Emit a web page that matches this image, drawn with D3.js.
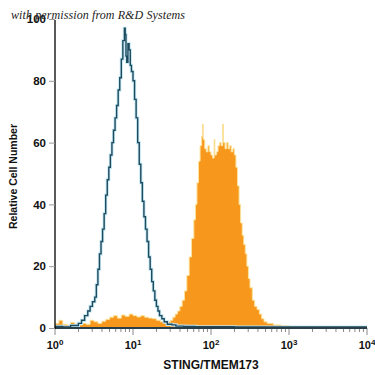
<!DOCTYPE html>
<html>
<head>
<meta charset="utf-8">
<script src="https://cdn.jsdelivr.net/npm/d3@7"></script>
<style>
  body { margin: 0; background: #fff; }
  svg { display: block; }
</style>
</head>
<body>
<div id="chart"></div>
<script>
// histogram outlines: position in log10 units, relative count
var isotypeLog = [0.00, 0.10, 0.20, 0.30, 0.34, 0.38, 0.42, 0.45, 0.48, 0.51, 0.53, 0.55, 0.57, 0.59,
  0.61, 0.63, 0.65, 0.67, 0.69, 0.71, 0.73, 0.75, 0.77, 0.79, 0.81, 0.83, 0.85, 0.87, 0.89, 0.90,
  0.91, 0.92, 0.935, 0.95, 0.965, 0.98, 1.00, 1.02, 1.04, 1.06, 1.08, 1.10, 1.12, 1.14, 1.16, 1.18,
  1.20, 1.22, 1.24, 1.26, 1.28, 1.30, 1.32, 1.34, 1.37, 1.40, 1.44, 1.50, 1.55, 1.65, 1.80, 2.00,
  2.30, 2.60, 2.90, 3.20, 3.50, 3.80, 4.00];
var isotypeCount = [0.5, 0.3, 0.8, 1.5, 2.5, 4, 5.5, 7, 8.5, 10, 14, 19, 24, 28,
  32, 37, 43, 48, 52, 56, 60, 64, 68, 72, 77, 81, 87, 93, 97, 95,
  88, 86, 92, 90, 85, 83, 80, 74, 68, 60, 53, 47, 41, 36, 32, 28,
  23, 19, 15, 12, 9, 7, 5.5, 4, 3, 2, 1.2, 1, 0.6, 0.5, 0.4, 0.4,
  0.3, 0.3, 0.3, 0.3, 0.3, 0.3, 0.3];

var stainedLog = [0.00, 0.05, 0.10, 0.15, 0.20, 0.25, 0.30, 0.35, 0.40, 0.45, 0.50, 0.55, 0.60, 0.65,
  0.70, 0.75, 0.80, 0.85, 0.90, 0.95, 1.00, 1.05, 1.10, 1.15, 1.20, 1.25, 1.30, 1.35, 1.40, 1.45,
  1.48, 1.51, 1.54, 1.57, 1.60, 1.63, 1.66, 1.69, 1.72, 1.75, 1.78, 1.80, 1.82, 1.84, 1.86, 1.88,
  1.89, 1.90, 1.92, 1.94, 1.96, 1.98, 2.00, 2.02, 2.04, 2.05, 2.07, 2.09, 2.11, 2.13, 2.15, 2.16,
  2.18, 2.20, 2.22, 2.24, 2.26, 2.28, 2.30, 2.32, 2.34, 2.36, 2.38, 2.40, 2.42, 2.44, 2.46, 2.48,
  2.50, 2.53, 2.56, 2.59, 2.62, 2.65, 2.68, 2.72, 2.80, 2.90, 3.00, 3.50, 4.00];
var stainedCount = [1.5, 2.5, 1.2, 1, 1.8, 1.3, 1, 1.5, 1.2, 2.5, 2, 1.5, 2.2, 2.8,
  3.5, 4, 3.2, 4.2, 3.8, 4.5, 4, 3.6, 4, 3.5, 3.2, 3, 2.5, 2, 1.5, 2,
  2.5, 3.5, 4.5, 5.5, 7, 9, 12, 17, 23, 29, 35, 40, 47, 54, 59, 62,
  66, 61, 58, 57, 59, 57, 56, 55, 61, 56, 57, 59, 60, 59, 66, 60,
  58, 60, 58, 59, 57, 58, 56, 52, 46, 40, 34, 30, 27, 24, 20, 16,
  13, 9, 7, 6, 4.5, 3, 2, 1.5, 1, 0.8, 0.3, 0.2, 0];

var yTicks = [0, 20, 40, 60, 80, 100];
var xDecades = [0, 1, 2, 3, 4];

var width = 375, height = 375,
    margin = { left: 55, right: 8, top: 19, bottom: 47 };

var svg = d3.select("#chart").append("svg")
  .attr("width", width)
  .attr("height", height);

var x = d3.scaleLog()
  .domain([1, 10000])
  .range([margin.left, width - margin.right]);

var y = d3.scaleLinear()
  .domain([0, 100])
  .range([height - margin.bottom, margin.top]);

function pts(logs, counts) {
  return logs.map(function (l, i) { return [Math.pow(10, l), counts[i]]; });
}

// stained cells: filled orange
var area = d3.area()
  .curve(d3.curveStepAfter)
  .x(function (d) { return x(d[0]); })
  .y0(y(0))
  .y1(function (d) { return y(d[1]); });

svg.append("path")
  .datum(pts(stainedLog, stainedCount))
  .attr("d", area)
  .attr("fill", "#f7971c")
  .attr("stroke", "#fbe39c")
  .attr("stroke-width", 1);

// isotype control: dark outline with light halo
var line = d3.line()
  .curve(d3.curveStepAfter)
  .x(function (d) { return x(d[0]); })
  .y(function (d) { return y(d[1]); });

var iso = pts(isotypeLog, isotypeCount);

svg.append("path")
  .datum(iso)
  .attr("d", line)
  .attr("fill", "none")
  .attr("stroke", "#c6e9f3")
  .attr("stroke-width", 3.2);

svg.append("path")
  .datum(iso)
  .attr("d", line)
  .attr("fill", "none")
  .attr("stroke", "#1e4a5e")
  .attr("stroke-width", 1.4);

// x axis
var minorTicks = [];
xDecades.slice(0, -1).forEach(function (d) {
  for (var k = 2; k < 10; k++) minorTicks.push(k * Math.pow(10, d));
});

var xg = svg.append("g").attr("class", "x-axis");

xg.selectAll("line.minor")
  .data(minorTicks)
  .enter().append("line")
    .attr("class", "minor")
    .attr("x1", function (d) { return x(d); })
    .attr("x2", function (d) { return x(d); })
    .attr("y1", y(0))
    .attr("y2", y(0) + 4)
    .attr("stroke", "#8a8a8a");

xg.selectAll("line.major")
  .data(xDecades)
  .enter().append("line")
    .attr("class", "major")
    .attr("x1", function (d) { return x(Math.pow(10, d)); })
    .attr("x2", function (d) { return x(Math.pow(10, d)); })
    .attr("y1", y(0))
    .attr("y2", y(0) + 7)
    .attr("stroke", "#8a8a8a");

xg.append("line")
  .attr("x1", x(1)).attr("x2", x(10000))
  .attr("y1", y(0)).attr("y2", y(0))
  .attr("stroke", "#2b3f48")
  .attr("stroke-width", 2);

var xl = xg.selectAll("text")
  .data(xDecades)
  .enter().append("text")
    .attr("x", function (d) { return x(Math.pow(10, d)); })
    .attr("y", y(0) + 21)
    .attr("text-anchor", "middle")
    .style("font", "bold 11px 'Liberation Sans', Arial, sans-serif")
    .attr("fill", "#111");
xl.append("tspan").text("10");
xl.append("tspan")
  .attr("dy", -4)
  .style("font-size", "8px")
  .text(function (d) { return d; });

svg.append("text")
  .attr("x", (x(1) + x(10000)) / 2)
  .attr("y", height - 6)
  .attr("text-anchor", "middle")
  .style("font", "bold 12px 'Liberation Sans', Arial, sans-serif")
  .attr("fill", "#111")
  .text("STING/TMEM173");

// y axis
var yAxis = d3.axisLeft(y)
  .tickValues(yTicks)
  .tickSize(6)
  .tickPadding(3);

var yg = svg.append("g")
  .attr("transform", "translate(" + margin.left + ",0)")
  .call(yAxis);

yg.select(".domain")
  .attr("stroke", "#000")
  .attr("stroke-width", 1.3)
  .attr("d", "M0," + (y(100) + 1) + "V" + (y(0) + 1));
yg.selectAll(".tick line").attr("stroke", "#999");
yg.selectAll(".tick text")
  .style("font", "bold 11.5px 'Liberation Sans', Arial, sans-serif")
  .attr("fill", "#111");

svg.append("text")
  .attr("transform", "translate(17," + (y(50) + 3) + ") rotate(-90)")
  .attr("text-anchor", "middle")
  .style("font", "bold 10.5px 'Liberation Sans', Arial, sans-serif")
  .attr("fill", "#111")
  .text("Relative Cell Number");

// watermark
svg.append("text")
  .attr("x", 11)
  .attr("y", 19)
  .attr("textLength", 174)
  .style("font", "italic 12px 'Liberation Serif', 'DejaVu Serif', serif")
  .attr("fill", "#222")
  .text("with permission from R&D Systems");
</script>
</body>
</html>
